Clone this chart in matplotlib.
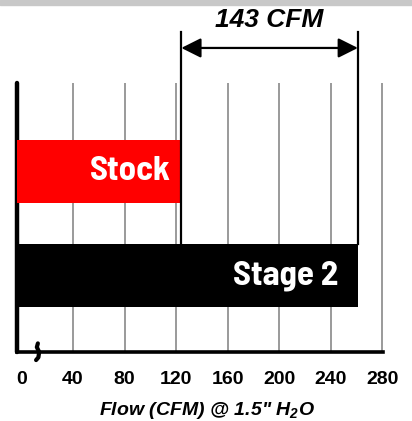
import matplotlib
matplotlib.use('Agg')
import matplotlib.pyplot as plt
from matplotlib import font_manager
from matplotlib.patches import Rectangle

# data
labels = ['Stage 2', 'Stock']
flows = [261, 124]
bar_colors = ['black', '#ff0000']
ticks = [0, 40, 80, 120, 160, 200, 240, 280]
gain_text = '143 CFM'

plt.rcParams['font.family'] = ['Liberation Sans', 'DejaVu Sans']
plt.rcParams['mathtext.fontset'] = 'custom'
plt.rcParams['mathtext.bf'] = 'Liberation Sans:bold:italic'

# pick a condensed face for the bar labels
have = {f.name for f in font_manager.fontManager.ttflist}
narrow = 'DejaVu Sans'
for cand in ['Barlow Semi Condensed', 'Archivo Narrow', 'Liberation Sans Narrow', 'Barlow Condensed']:
    if cand in have:
        narrow = cand
        break

fig = plt.figure(figsize=(4.12, 4.21), dpi=100)
fig.patches.append(Rectangle((0, 1 - 5 / 421), 1, 5 / 421, transform=fig.transFigure,
                             color='#c8c8c8', zorder=0))
ax = fig.add_axes([17 / 412, 69 / 421, 366 / 412, 269 / 421])

x0 = -3.5
ax.set_xlim(x0, 280.5)
ax.set_ylim(-0.736, 1.851)
ypos = list(range(len(labels)))
ax.barh(ypos, [f - x0 for f in flows], left=x0, height=0.606, color=bar_colors, zorder=3)

for t in ticks[1:]:
    ax.axvline(t, color='#9a9a9a', lw=1.4, zorder=1)

ax.set_xticks(ticks)
ax.set_xticklabels([str(t) for t in ticks], fontsize=14, fontweight='bold')
ax.tick_params(axis='x', length=0, pad=14)
ax.set_yticks([])
for s in ['top', 'right']:
    ax.spines[s].set_visible(False)
ax.spines['left'].set_linewidth(3.2)
ax.spines['bottom'].set_linewidth(2.6)
ax.spines['left'].set_capstyle('round')

ax.set_xlabel('Flow (CFM) @ 1.5" H$_{\\mathbf{2}}$O', fontsize=14,
              fontweight='bold', fontstyle='italic')
ax.xaxis.set_label_coords(0.52, -0.18)

# bar labels
ax.text(flows[1] - 8, ypos[1], labels[1], color='white', fontsize=25, fontweight='bold',
        family=narrow, fontstretch='semi-condensed', ha='right', va='center', zorder=4)
ax.text(flows[0] - 15, ypos[0], labels[0], color='white', fontsize=25, fontweight='bold',
        family=narrow, fontstretch='semi-condensed', ha='right', va='center', zorder=4)

# difference marker above chart
top = ypos[0] + 0.303
for f in flows:
    ax.plot([f, f], [top, 2.341], color='black', lw=1.6, clip_on=False, zorder=5)
ax.annotate('', xy=(flows[1], 2.188), xytext=(flows[0], 2.188),
            arrowprops=dict(arrowstyle='<|-|>,head_length=0.6,head_width=0.3',
                            mutation_scale=20, lw=1.6, color='black',
                            shrinkA=0, shrinkB=0),
            annotation_clip=False)
ax.text((flows[0] + flows[1]) / 2, 2.46, gain_text, fontsize=19, fontweight='bold',
        fontstyle='italic', ha='center', va='center')

# axis break squiggle
bx = 12.5
ax.plot([bx - 1.2, bx + 0.6, bx + 1.2, bx - 0.6, bx + 0.2],
        [-0.03, -0.02, 0.0, 0.018, 0.032],
        transform=ax.get_xaxis_transform(), color='black', lw=3, clip_on=False,
        solid_capstyle='round', zorder=6)

fig.savefig('out.png', dpi=100)
